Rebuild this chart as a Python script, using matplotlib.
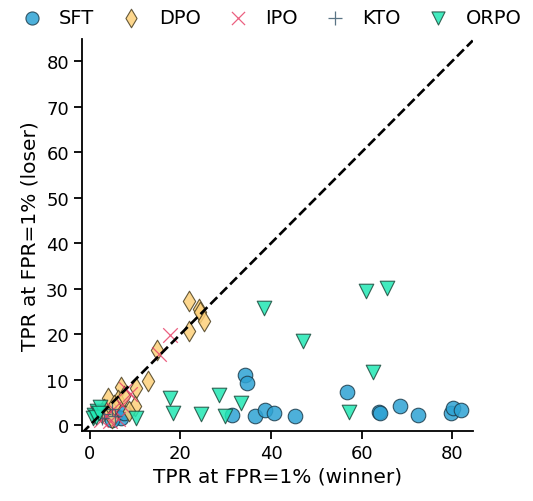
import matplotlib
matplotlib.use('Agg')
import matplotlib.pyplot as plt

# TPR at FPR=1%, winner (x) vs loser (y)
sft_x = [34.3, 34.7, 31.4, 36.5, 38.6, 40.6, 45.2, 56.7, 63.9, 64.0, 68.4, 72.4, 79.6, 80.1, 82.0,
         5.6, 6.8, 7.5, 4.9]
sft_y = [11.0, 9.2, 2.35, 2.0, 3.4, 2.8, 2.0, 7.3, 3.0, 2.6, 4.3, 2.2, 2.6, 3.7, 3.4,
         2.2, 1.6, 2.8, 1.2]

dpo_x = [21.8, 24.1, 24.3, 25.2, 21.9, 14.8, 12.9, 6.8, 10.2, 4.1, 9.9, 4.8, 6.2, 7.5, 3.2, 5.3, 2.6, 8.6]
dpo_y = [27.2, 25.6, 24.8, 22.9, 20.7, 16.5, 9.7, 8.5, 8.3, 6.1, 4.2, 1.5, 5.6, 6.5, 3.6, 4.4, 2.6, 3.2]

ipo_x = [17.8, 15.3, 8.8, 8.1, 3.5, 5.2, 2.4, 6.3, 4.4, 7.0, 1.5]
ipo_y = [19.8, 15.6, 6.8, 7.9, 2.2, 3.6, 1.2, 1.4, 0.9, 4.4, 2.8]

kto_x = [4.8, 3.2, 1.9, 5.6, 2.6]
kto_y = [3.5, 2.4, 3.1, 2.0, 1.6]

orpo_x = [60.9, 65.5, 38.4, 47.1, 62.5, 28.5, 33.3, 24.5, 29.9, 57.1, 17.8, 18.3, 10.3,
          0.9, 1.6, 2.2, 0.7, 1.3, 2.0]
orpo_y = [29.6, 30.2, 25.7, 18.5, 11.6, 6.6, 4.9, 2.5, 2.0, 3.0, 6.1, 2.6, 1.7,
          2.2, 3.1, 4.0, 1.5, 1.9, 2.6]

fig = plt.figure(figsize=(5.33, 5.02), dpi=100)
ax = fig.add_axes([0.154, 0.139, 0.733, 0.781])

ax.scatter(sft_x, sft_y, s=110, marker='o', color='#2ea3d4', edgecolor='#1d3d4d', linewidth=0.8, alpha=0.85, label='SFT', zorder=3)
ax.scatter(dpo_x, dpo_y, s=110, marker='d', color='#fdd07a', edgecolor='#4a3e20', linewidth=0.8, alpha=0.85, label='DPO', zorder=3)
ax.scatter(ipo_x, ipo_y, s=110, marker='x', color='#e8456b', linewidth=0.9, alpha=0.85, label='IPO', zorder=3)
ax.scatter(kto_x, kto_y, s=110, marker='+', color='#3d5c70', linewidth=0.9, alpha=0.85, label='KTO', zorder=3)
ax.scatter(orpo_x, orpo_y, s=110, marker='v', color='#22e8b4', edgecolor='#1c4a3c', linewidth=0.8, alpha=0.85, label='ORPO', zorder=3)

lim = (-1.7, 84.5)
ax.plot(lim, lim, color='black', linestyle='--', linewidth=1.9, zorder=4)
ax.set_xlim(lim)
ax.set_ylim(-1.3, 84.8)

ax.spines['top'].set_visible(False)
ax.spines['right'].set_visible(False)
ax.spines['left'].set_linewidth(1.3)
ax.spines['bottom'].set_linewidth(1.3)
ax.tick_params(labelsize=13, width=1.3, length=6)
ax.set_xticks([0, 20, 40, 60, 80])
ax.set_yticks([0, 10, 20, 30, 40, 50, 60, 70, 80])
ax.set_xlabel('TPR at FPR=1% (winner)', fontsize=14.5, labelpad=3)
ax.set_ylabel('TPR at FPR=1% (loser)', fontsize=14.5, labelpad=5)

fig.legend(loc='upper center', bbox_to_anchor=(0.506, 1.016), ncol=5, frameon=False, fontsize=14,
           handletextpad=0.72, columnspacing=1.2, markerscale=0.9, handlelength=1.4)

fig.savefig('out.png', dpi=100)
